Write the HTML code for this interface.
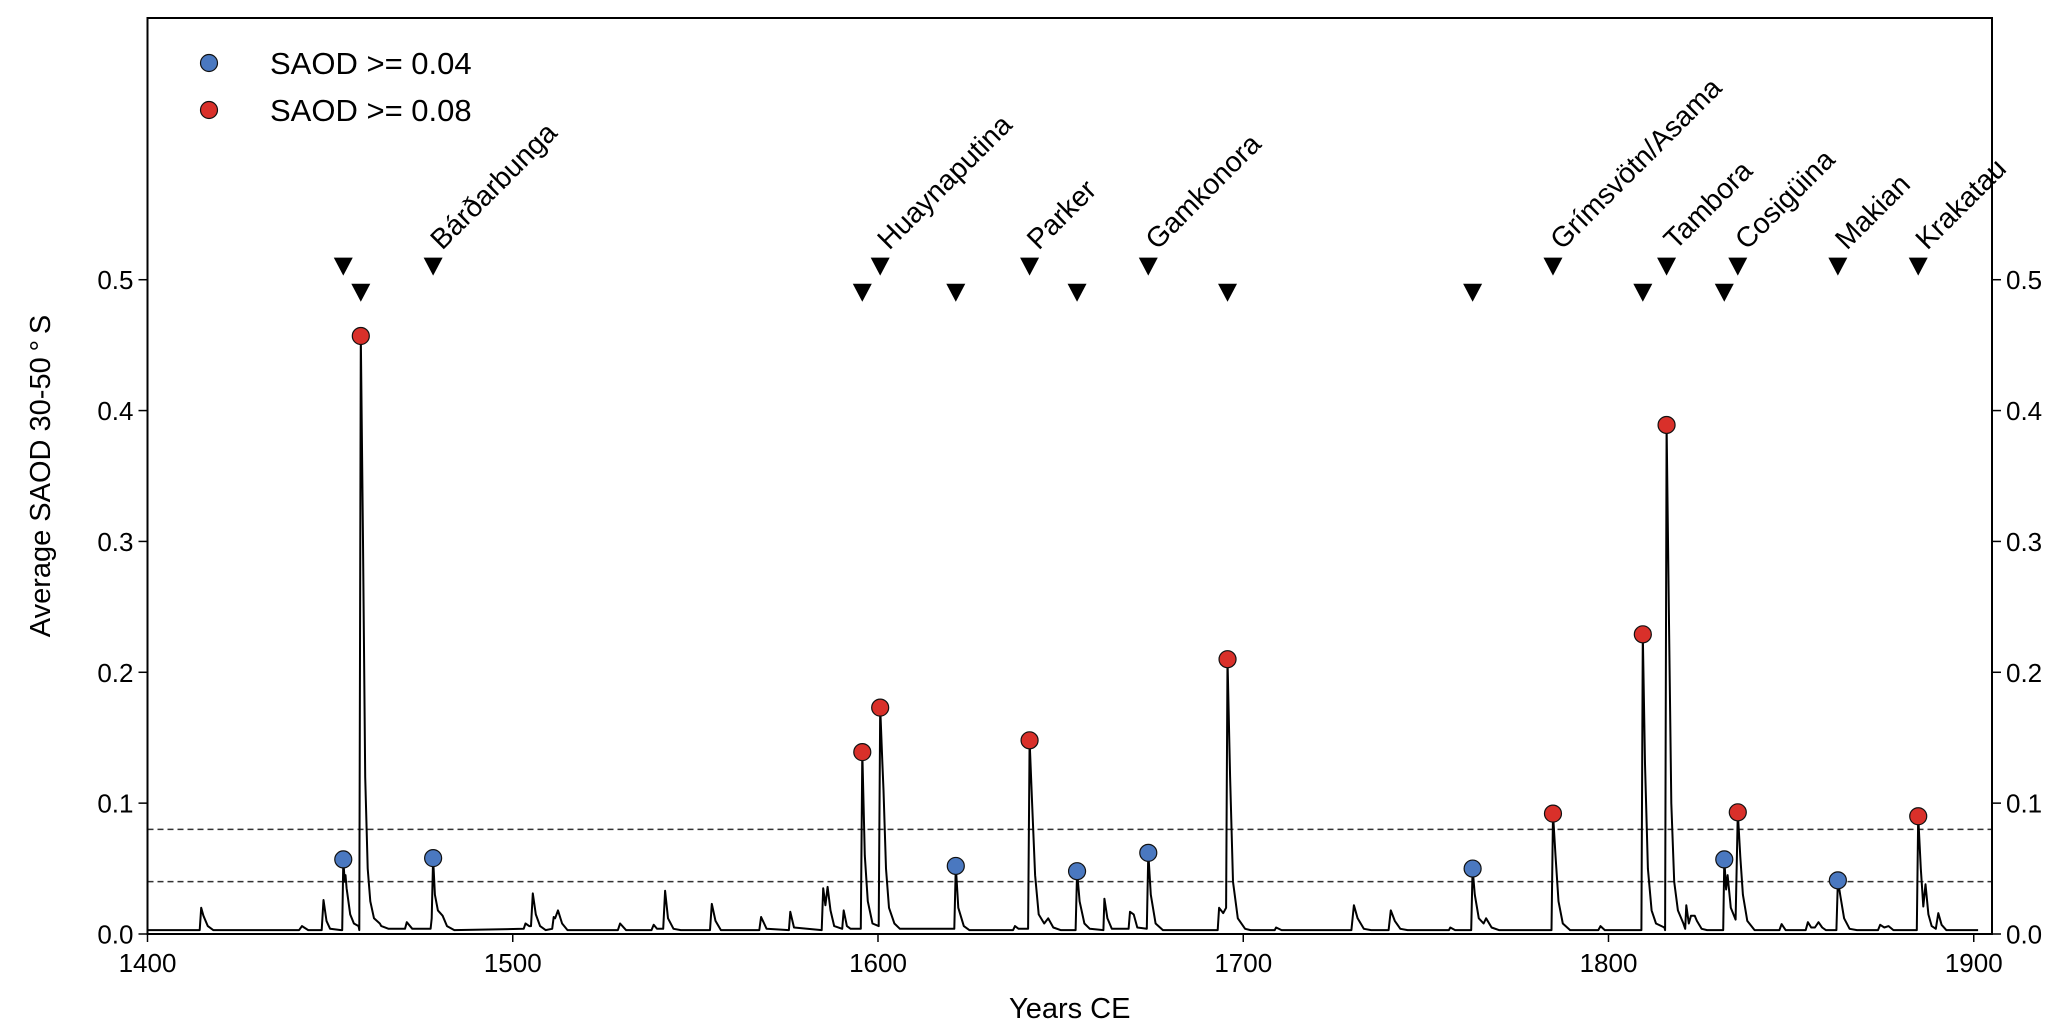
<!DOCTYPE html>
<html><head><meta charset="utf-8"><style>
html,body{margin:0;padding:0;background:#fff}
svg{display:block;font-family:"Liberation Sans",sans-serif}
</style></head><body>
<svg id="chart" width="2067" height="1033" viewBox="0 0 2067 1033"></svg>
<script>
const years=[1400,1414.3,1414.7,1415.3,1416.5,1418,1441.5,1442.3,1444,1447.7,1448.2,1449,1450,1453,1453.3,1453.6,1454.0,1454.2,1454.5,1455.5,1456.5,1457.8,1458.0,1458.4,1459,1459.6,1460.3,1461,1462,1463.6,1464,1466,1470.5,1471,1472.5,1477.5,1477.8,1478.2,1478.7,1479.5,1480.8,1482,1484,1503,1503.5,1504.5,1505,1505.5,1506.3,1507.5,1509,1510.8,1511.2,1511.6,1512.4,1513.5,1515,1528.8,1529.4,1531,1538,1538.6,1539.5,1541.2,1541.7,1542.5,1544,1546,1554,1554.5,1555.5,1557,1567.5,1568,1569.5,1575.6,1576,1577,1584.6,1585,1585.6,1586.2,1587,1588,1590.2,1590.6,1591.5,1592.5,1595.3,1595.7,1596.4,1597.2,1598.5,1600.2,1600.6,1601.2,1601.5,1602.2,1603,1604.5,1606,1620.9,1621.3,1622,1623.5,1625,1637,1637.5,1638.5,1641.1,1641.5,1642.2,1643,1644,1645.5,1646.6,1648,1650,1654.1,1654.5,1655.2,1656.5,1658,1661.7,1662,1662.8,1664,1668.6,1669,1670,1671,1673.6,1674,1674.7,1676,1678,1693,1693.4,1694.5,1695.3,1695.7,1696.4,1697.2,1698.5,1700.5,1702,1708.6,1709,1710.5,1729.6,1730.3,1731.3,1733,1735,1739.8,1740.4,1741.5,1743,1745,1756.3,1756.7,1758,1762.4,1762.8,1763.4,1764.5,1765.8,1766.5,1768,1770,1784.4,1784.8,1785.5,1786.3,1787.5,1789.5,1797.2,1797.8,1799,1809,1809.4,1810,1810.8,1811.8,1813,1815.3,1815.5,1815.9,1816.5,1817.2,1818,1819,1820.5,1821,1821.3,1822,1822.6,1823.6,1824.2,1825.5,1827,1831.4,1831.7,1832.2,1832.6,1833.5,1834.8,1835.4,1836.1,1836.8,1838,1840,1846.8,1847.4,1848.5,1854,1854.6,1855.5,1856.5,1857.5,1858.5,1859.5,1862.4,1862.8,1863.5,1864.5,1866,1868,1873.8,1874.4,1875.5,1876.7,1878,1884.4,1884.8,1885.5,1886.2,1886.8,1887.6,1888.5,1889.6,1890.3,1891.2,1892.5,1901.2];
const saod=[.003,.003,.020,.014,.006,.003,.003,.006,.003,.003,.026,.010,.004,.003,.003,.057,.040,.045,.035,.015,.008,.006,.003,.457,.30,.12,.05,.025,.012,.008,.006,.004,.004,.009,.004,.004,.012,.058,.03,.018,.014,.006,.003,.004,.008,.006,.006,.031,.015,.006,.003,.004,.013,.012,.018,.008,.003,.003,.008,.003,.003,.007,.004,.004,.033,.012,.004,.003,.003,.023,.010,.003,.003,.013,.004,.003,.017,.005,.003,.035,.022,.036,.018,.006,.004,.018,.006,.004,.004,.139,.06,.025,.008,.006,.173,.13,.11,.05,.02,.008,.004,.004,.052,.02,.006,.003,.003,.006,.004,.004,.148,.10,.045,.015,.008,.012,.005,.003,.003,.048,.025,.008,.004,.003,.027,.012,.004,.004,.017,.015,.005,.004,.062,.03,.008,.003,.003,.020,.016,.02,.210,.12,.04,.012,.004,.003,.003,.005,.003,.003,.022,.012,.004,.003,.003,.018,.010,.004,.003,.003,.005,.003,.003,.050,.03,.012,.008,.012,.005,.003,.003,.092,.06,.025,.008,.003,.003,.006,.003,.003,.229,.13,.05,.018,.008,.005,.003,.389,.25,.10,.04,.018,.008,.004,.022,.008,.014,.014,.010,.004,.003,.003,.057,.034,.045,.020,.011,.093,.059,.03,.01,.003,.003,.0076,.003,.003,.009,.005,.005,.009,.005,.003,.003,.041,.029,.012,.004,.003,.003,.007,.005,.006,.003,.003,.090,.05,.021,.038,.015,.006,.004,.016,.007,.003,.003];
const eventYears=[1453.6,1458.4,1478.2,1595.7,1600.6,1621.3,1641.5,1654.5,1674,1695.7,1762.8,1784.8,1809.4,1815.9,1831.7,1835.4,1862.8,1884.8];
const eventSaod=[.057,.457,.058,.139,.173,.052,.148,.048,.062,.210,.050,.092,.229,.389,.057,.093,.041,.090];
const triRow=[.51,.49,.51,.49,.51,.49,.51,.49,.51,.49,.49,.51,.49,.51,.49,.51,.51,.51];
const volcanoNames=["","","Bárðarbunga","","Huaynaputina","","Parker","","Gamkonora","","","Grímsvötn/Asama","","Tambora","","Cosigüina","Makian","Krakatau"];
const xTicks=[1400,1500,1600,1700,1800,1900];
const yTicks=[0,0.1,0.2,0.3,0.4,0.5];
const yTickLabels=["0.0","0.1","0.2","0.3","0.4","0.5"];
const thresholds=[0.04,0.08];

const L=147.5,R=1992,T=18,B=934;
const X=v=>L+(v-1400)*(R-L)/505;
const Y=v=>B-v*(B-T)/0.7;
const svg=document.getElementById('chart');
const NS='http://www.w3.org/2000/svg';
function mk(tag,attrs,parent){const e=document.createElementNS(NS,tag);for(const k in attrs)e.setAttribute(k,attrs[k]);(parent||svg).appendChild(e);return e;}

thresholds.forEach((t,i)=>{
  const l=mk('line',{x1:L,x2:R,y1:Y(t),y2:Y(t),stroke:'#333','stroke-width':1.5,'stroke-dasharray':'6,4'});
  
  
});
let d='';years.forEach((y,i)=>{d+=(i?'L':'M')+X(y).toFixed(1)+','+Y(saod[i]).toFixed(1);});
const p=mk('path',{d:d,fill:'none',stroke:'#000','stroke-width':2,'stroke-linejoin':'round'});


eventYears.forEach((y,i)=>{
  const v=eventSaod[i];
  const c=mk('circle',{cx:X(y),cy:Y(v),r:8.5,fill:v>=0.08?'#d9302a':'#4a78c0',stroke:'#111','stroke-width':1.2});
  
  
  const tx=X(y),ty=Y(triRow[i]);
  const t=mk('polygon',{points:`${tx-9.5},${ty-9} ${tx+9.5},${ty-9} ${tx},${ty+9}`,fill:'#000'});
  
  
  if(volcanoNames[i]){
    const lx=tx+9,ly=Y(0.522);
    const tt=mk('text',{x:lx,y:ly,'font-size':28.5,transform:`rotate(-45 ${lx} ${ly})`,fill:'#000'});
    tt.textContent=volcanoNames[i];
    
    
  }
});
const fr=mk('rect',{x:L,y:T,width:R-L,height:B-T,fill:'none',stroke:'#000','stroke-width':2});


xTicks.forEach(v=>{
  const l=mk('line',{x1:X(v),x2:X(v),y1:B,y2:B+8,stroke:'#000','stroke-width':1.5});
  
  
  const t=mk('text',{x:X(v),y:B+38,'font-size':26,'text-anchor':'middle'});
  t.textContent=v;
  
  
});
yTicks.forEach((v,i)=>{
  [[L,L-9,L-14,'end'],[R,R+9,R+14,'start']].forEach(s=>{
    const l=mk('line',{x1:s[0],x2:s[1],y1:Y(v),y2:Y(v),stroke:'#000','stroke-width':1.5});
    
    
    const t=mk('text',{x:s[2],y:Y(v)+9.5,'font-size':26,'text-anchor':s[3]});
    t.textContent=yTickLabels[i];
    
    
  });
});
const xt=mk('text',{x:(L+R)/2,y:1018,'font-size':29,'text-anchor':'middle'});
xt.textContent='Years CE';


const yt=mk('text',{x:0,y:0,'font-size':29,'text-anchor':'middle',transform:'translate(50,476) rotate(-90)'});
yt.textContent='Average SAOD 30-50\u2009\u00B0\u2009S';


[['#4a78c0','SAOD >= 0.04',63],['#d9302a','SAOD >= 0.08',110]].forEach(e=>{
  const c=mk('circle',{cx:209,cy:e[2],r:8.5,fill:e[0],stroke:'#111','stroke-width':1.2});
  
  
  const t=mk('text',{x:270,y:e[2]+11,'font-size':31});
  t.textContent=e[1];
  
  
});
</script>
</body></html>
